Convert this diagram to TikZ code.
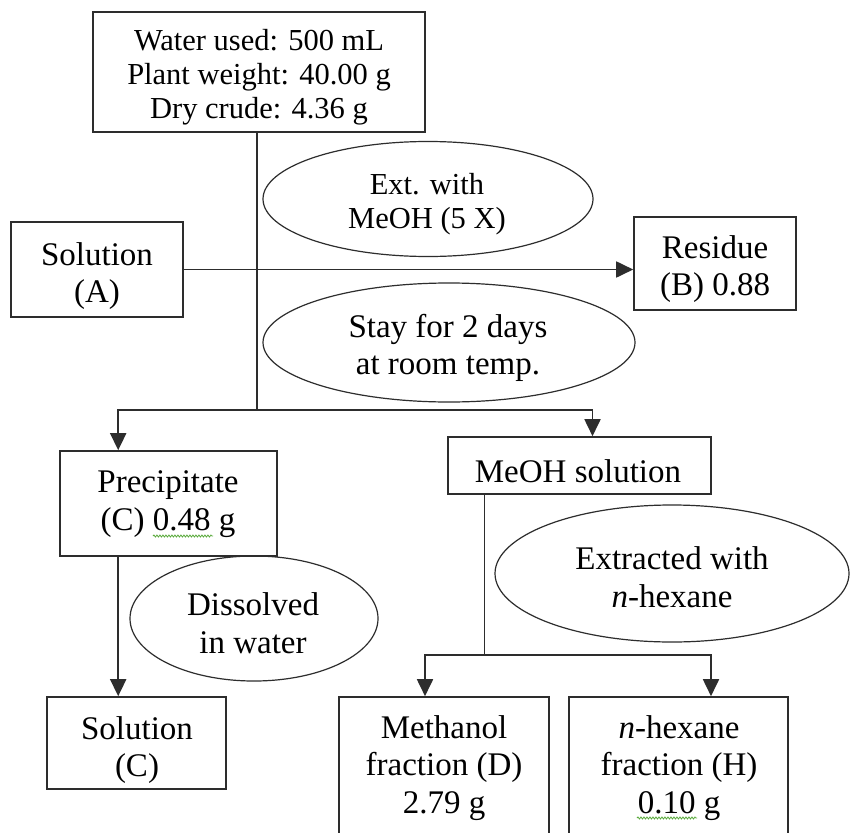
\documentclass[tikz,border=0pt]{standalone}
\usepackage{fontspec}
\setmainfont{Liberation Serif}
\usetikzlibrary{shapes.geometric,arrows.meta,decorations.pathmorphing}
\definecolor{ink}{RGB}{45,45,45}
\definecolor{squig}{RGB}{90,170,60}
\tikzset{
  boxshape/.style={draw=ink, line width=1.6pt, rectangle, inner sep=0pt},
  ovalshape/.style={draw=ink, line width=1.2pt, ellipse, inner sep=0pt},
  bigtext/.style={inner sep=0pt, align=center, font=\fontsize{33}{37.5}\selectfont},
  smalltext/.style={inner sep=0pt, align=center, font=\fontsize{30.5}{34}\selectfont},
  conn/.style={draw=ink, line width=1.3pt},
  arr/.style={draw=ink, line width=1.8pt, -{Triangle[length=17pt,width=16pt]}},
  wavy/.style={draw=squig, line width=0.8pt, decorate, decoration={snake, amplitude=1pt, segment length=3pt}}
}
\begin{document}
\begin{tikzpicture}[x=1pt,y=-1pt]
\clip (0,0) rectangle (850,832);
\fill[white] (0,0) rectangle (850,832);

% boxes
\node[boxshape, minimum width=332pt, minimum height=120pt] (top) at (259,72) {};
\node[smalltext] (topT) at (259,77) {Water used: 500 mL\\Plant weight: 40.00 g\\Dry crude: 4.36 g};

\node[boxshape, minimum width=172pt, minimum height=95pt] (solA) at (97,269.5) {};
\node[bigtext] (solAT) at (97,276) {Solution\\(A)};

\node[boxshape, minimum width=162pt, minimum height=93pt] (res) at (715,263.5) {};
\node[bigtext] (resT) at (715,269) {Residue\\(B) 0.88};

\node[boxshape, minimum width=217pt, minimum height=105pt] (prec) at (168.5,503.5) {};
\node[bigtext] (precT) at (168,504) {Precipitate\\(C) 0.48 g};

\node[boxshape, minimum width=263pt, minimum height=57pt] (meoh) at (579.5,465.5) {};
\node[bigtext] (meohT) at (578,471) {MeOH solution};

\node[boxshape, minimum width=179pt, minimum height=92pt] (solC) at (136.5,743) {};
\node[bigtext] (solCT) at (137,750) {Solution\\(C)};

\node[boxshape, minimum width=210pt, minimum height=170pt] (meth) at (444,782) {};
\node[bigtext] (methT) at (444,768) {Methanol\\fraction (D)\\2.79 g};

\node[boxshape, minimum width=219pt, minimum height=170pt] (hex) at (678.5,782) {};
\node[bigtext] (hexT) at (679,768) {\textit{n}-hexane\\fraction (H)\\0.10 g};

% ellipses
\node[ovalshape, minimum width=330pt, minimum height=115pt] (e1) at (428,199) {};
\node[smalltext] (e1T) at (427,204) {Ext. with\\MeOH (5 X)};

\node[ovalshape, minimum width=372pt, minimum height=119pt] (e2) at (449,342.5) {};
\node[bigtext] (e2T) at (448,348) {Stay for 2 days\\at room temp.};

\node[ovalshape, minimum width=248pt, minimum height=125pt] (e3) at (254,618.5) {};
\node[bigtext] (e3T) at (253,623) {Dissolved\\in water};

\node[ovalshape, minimum width=354pt, minimum height=137pt] (e4) at (672,573.5) {};
\node[bigtext] (e4T) at (672,577) {Extracted with\\\textit{n}-hexane};

% connectors
\coordinate (j1) at ([xshift=-2pt]top.south |- 0,410);
\draw[conn] ([xshift=-2pt]top.south) -- (j1);
\draw[arr] (j1) -| ([xshift=59pt]prec.north west);
\draw[arr] (j1) -| ([xshift=13pt]meoh.north);
\draw[arr] (solA.east) -- (solA.east -| res.west);

\coordinate (j2) at ([xshift=37pt]meoh.south west |- 0,655);
\draw[conn] ([xshift=37pt]meoh.south west) -- (j2);
\draw[arr] (j2) -| ([xshift=-19pt]meth.north);
\draw[arr] (j2) -| ([xshift=32.5pt]hex.north);

\draw[arr] ([xshift=59pt]prec.south west) -- ([xshift=72pt]solC.north west);

% spell-check squiggles
\draw[wavy] (153,536) -- (213,536);
\draw[wavy] (637,818) -- (697,818);
\end{tikzpicture}
\end{document}
